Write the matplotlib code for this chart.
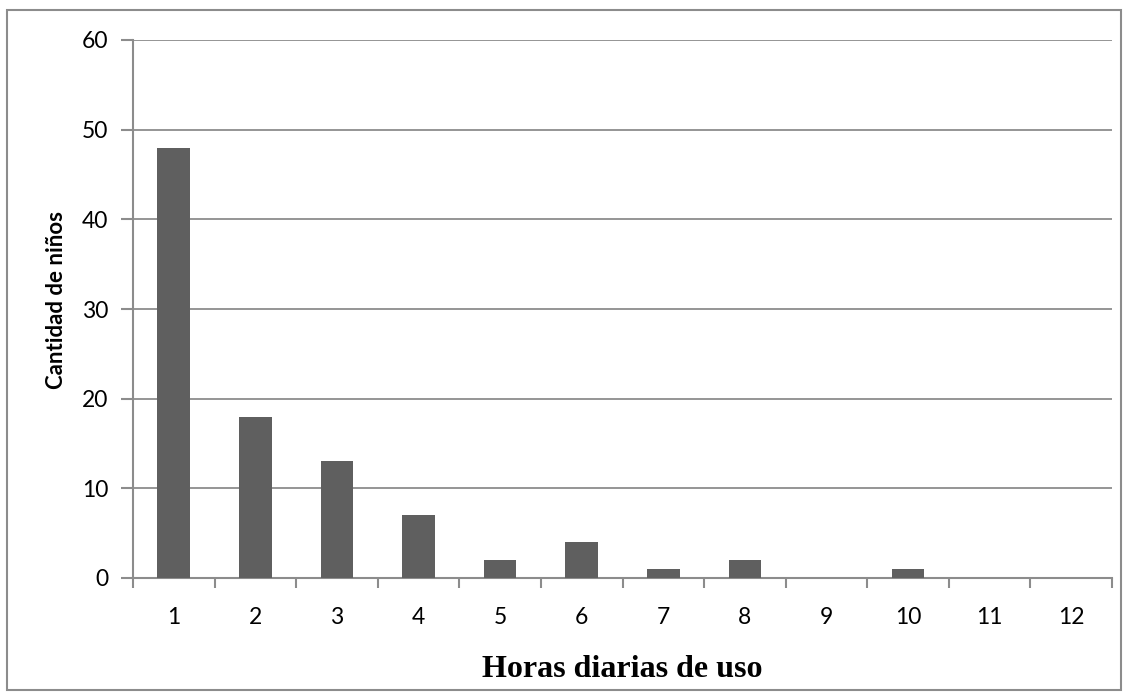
import matplotlib.pyplot as plt
from matplotlib.patches import Rectangle

# datos
horas = [1, 2, 3, 4, 5, 6, 7, 8, 9, 10, 11, 12]
ninos = [48, 18, 13, 7, 2, 4, 1, 2, 0, 1, 0, 0]
y_ticks = [0, 10, 20, 30, 40, 50, 60]

gris = '#8c8c8c'

fig = plt.figure(figsize=(11.29, 6.99), dpi=100)
ax = fig.add_axes([133 / 1129, 1 - 578 / 699, (1112 - 133) / 1129, (578 - 40) / 699])

ax.bar(horas, ninos, width=0.4, color='#5f5f5f', zorder=3)

ax.set_xlim(0.5, 12.5)
ax.set_ylim(0, 60)
ax.set_yticks(y_ticks)
ax.set_xticks(horas)
ax.set_xticks([h + 0.5 for h in [0] + horas], minor=True)
ax.tick_params(axis='x', which='major', length=0, pad=21, labelsize=16.5)
ax.tick_params(axis='x', which='minor', length=7, width=1.5, color=gris)
ax.tick_params(axis='y', length=9, width=1.5, color=gris, pad=9, labelsize=16.5)
for lbl in ax.get_xticklabels() + ax.get_yticklabels():
    lbl.set_family('Lato')

ax.grid(axis='y', color=gris, linewidth=1.3, zorder=0)
for s in ['top', 'right']:
    ax.spines[s].set_visible(False)
for s in ['left', 'bottom']:
    ax.spines[s].set_color(gris)
    ax.spines[s].set_linewidth(1.5)

fig.text(57 / 1129, 1 - 300 / 699, 'Cantidad de niños', rotation=90, ha='center', va='center',
         fontsize=16, fontweight='bold', family='Lato')
fig.text(622 / 1129, 1 - 677 / 699, 'Horas diarias de uso', ha='center', va='baseline',
         fontsize=23, fontweight='bold', family='Liberation Serif')

# borde del gráfico
fig.patches.append(Rectangle((7 / 1129, 1 - 690 / 699), 1114 / 1129, 680 / 699,
                             transform=fig.transFigure, fill=False,
                             edgecolor=gris, linewidth=1.5))

fig.savefig('out.png', dpi=100)
